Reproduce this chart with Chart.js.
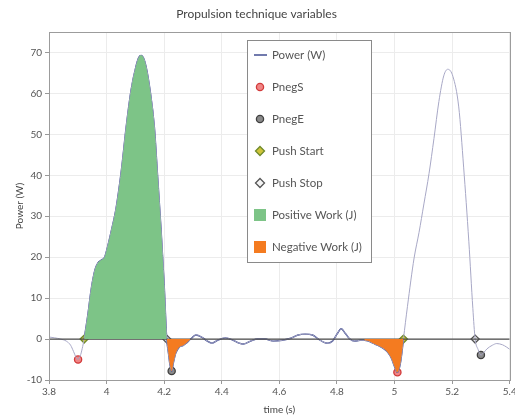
<!DOCTYPE html>
<html>
<head>
<meta charset="utf-8">
<script src="https://cdn.jsdelivr.net/npm/chart.js@4/dist/chart.umd.min.js"></script>
<style>
html,body{margin:0;padding:0;background:#fff;}
#wrap{width:515px;height:416px;position:relative;}
</style>
</head>
<body>
<div id="wrap"><canvas id="c" width="515" height="416"></canvas></div>
<script>
// ---- data ----
const timeS = [3.80,3.82,3.84,3.86,3.875,3.885,3.895,3.901,3.91,3.917,3.922,3.935,3.947,3.96,3.97,3.982,3.993,4.005,4.016,4.033,4.051,4.068,4.085,4.102,4.112,4.12,4.128,4.137,4.151,4.166,4.177,4.189,4.2,4.209,4.215,4.22,4.226,4.232,4.24,4.252,4.265,4.275,4.292,4.31,4.33,4.35,4.366,4.385,4.413,4.44,4.46,4.475,4.5,4.525,4.55,4.58,4.61,4.64,4.665,4.69,4.715,4.735,4.755,4.769,4.785,4.8,4.815,4.83,4.845,4.861,4.88,4.895,4.91,4.925,4.941,4.96,4.976,4.99,4.999,5.01,5.017,5.022,5.027,5.031,5.045,5.068,5.085,5.102,5.12,5.137,5.154,5.171,5.185,5.203,5.223,5.24,5.258,5.272,5.28,5.29,5.3,5.31,5.321,5.34,5.355,5.375,5.39,5.4];
const powerW = [0.5,0.3,0,-0.5,-1.5,-3,-4.6,-5,-3.8,-1.8,0,6,12.4,17,18.6,19.3,20,23,26.3,32,41,51.8,60.8,66.6,68.8,69.3,68.7,66.6,60.8,51.8,40,27,13.3,0,-3.5,-6.2,-7.8,-5.8,-3.5,-2,-1.6,-1.1,0,1,0.5,-0.5,-1,-0.3,0.3,-0.3,-1,-1.2,-0.5,0,0,-0.5,-0.3,0.2,1,1.2,1,0,-0.8,-1,-0.5,1.2,2.5,1.3,0,-0.5,-0.3,-0.3,-0.5,-1,-1.5,-2.2,-3.2,-4.8,-6.5,-8.1,-7,-5.2,-2.5,0,8,19.8,26,33,40.5,49,58,64.3,65.9,64.1,56.7,42,23.9,7.5,0,-2.5,-3.9,-3.3,-2.4,-1.5,-1.1,-1.4,-2,-2.5];

const pnegS_t = [3.901, 5.01];     const pnegS_v = [-5, -8.1];
const pnegE_t = [4.226, 5.30];     const pnegE_v = [-7.8, -3.9];
const pushStart_t = [3.922, 5.031]; const pushStart_v = [0, 0];
const pushStop_t = [4.209, 5.28];   const pushStop_v = [0, 0];
const cycleWindow = [3.922, 5.031];           // highlighted cycle
const positiveWindow = [3.922, 4.209];        // positive work
const negativeWindows = [[4.209, 4.292], [4.895, 5.031]]; // negative work

const xTickLabels = ['3.8','4','4.2','4.4','4.6','4.8','5','5.2','5.4'];
const yTickLabels = ['-10','0','10','20','30','40','50','60','70'];

const legendLabels = ['Power (W)','PnegS','PnegE','Push Start','Push Stop','Positive Work (J)','Negative Work (J)'];

// ---- helpers building datasets from the arrays ----
const pts = (ts, vs) => ts.map((t,i)=>({x:t,y:vs[i]}));
const windowPts = (a,b) => timeS.map((t,i)=>({x:t,y:powerW[i]})).filter(p=>p.x>=a-1e-9 && p.x<=b+1e-9);

const C = {
  lineDark:'#34418a', lineLight:'#a8a8c6', zero:'#4a4a4a',
  green:'#7dc487', orange:'#f47b20',
  negSFill:'#f08585', negSEdge:'#d23a3a',
  negEFill:'#8a8a8a', negEEdge:'#3f3f3f',
  startFill:'#cfc43a', startEdge:'#6f8a2a',
  stopFill:'#f4f4f4', stopEdge:'#555555'
};

const datasets = [];
datasets.push({data:windowPts(positiveWindow[0],positiveWindow[1]), borderWidth:0, pointRadius:0,
  backgroundColor:C.green, fill:'origin', cubicInterpolationMode:'monotone'});
negativeWindows.forEach(w=>datasets.push({data:windowPts(w[0],w[1]), borderWidth:0, pointRadius:0,
  backgroundColor:C.orange, fill:'origin', cubicInterpolationMode:'monotone'}));
datasets.push({data:[{x:3.8,y:0},{x:5.4,y:0}], borderColor:C.zero, borderWidth:1.3, pointRadius:0, fill:false});
datasets.push({data:pts(timeS,powerW), borderColor:C.lineLight, borderWidth:1, pointRadius:0, fill:false, cubicInterpolationMode:'monotone'});
datasets.push({data:windowPts(cycleWindow[0],cycleWindow[1]), borderColor:C.lineDark, borderWidth:1.4, pointRadius:0, fill:false, cubicInterpolationMode:'monotone'});
const marker = (ts,vs,style,fillc,edge,r)=>({data:pts(ts,vs), showLine:false, pointStyle:style, pointRadius:r,
  pointBackgroundColor:fillc, pointBorderColor:edge, pointBorderWidth:1.3});
datasets.push(marker(pushStop_t,pushStop_v,'rectRot',C.stopFill,C.stopEdge,4));
datasets.push(marker(pushStart_t,pushStart_v,'rectRot',C.startFill,C.startEdge,4));
datasets.push(marker(pnegE_t,pnegE_v,'circle',C.negEFill,C.negEEdge,3.6));
datasets.push(marker(pnegS_t,pnegS_v,'circle',C.negSFill,C.negSEdge,3.6));

const FONT = 'Lato, "Open Sans", sans-serif';

const framePlugin = {
  id:'frame',
  afterDatasetsDraw(chart){
    const {ctx, chartArea:a} = chart;
    ctx.save();
    ctx.strokeStyle='#9c9c9c'; ctx.lineWidth=1;
    ctx.strokeRect(Math.round(a.left)+0.5, Math.round(a.top)+0.5, Math.round(a.right-a.left), Math.round(a.bottom-a.top));
    // legend box
    const bx=247.5, by=40.5, bw=124, bh=222;
    ctx.fillStyle='#fff'; ctx.fillRect(bx,by,bw,bh);
    ctx.strokeStyle='#8a8a8a'; ctx.strokeRect(bx,by,bw,bh);
    ctx.font='11.5px '+FONT; ctx.textBaseline='middle'; ctx.textAlign='left';
    const sx=260, tx=272;
    legendLabels.forEach((lab,i)=>{
      const y = 55 + i*32;
      if(i===0){ ctx.strokeStyle=C.lineDark; ctx.lineWidth=1.4; ctx.beginPath(); ctx.moveTo(254,y); ctx.lineTo(267,y); ctx.stroke(); }
      const circ=(f,e)=>{ctx.beginPath(); ctx.arc(sx,y,3.6,0,Math.PI*2); ctx.fillStyle=f; ctx.fill(); ctx.strokeStyle=e; ctx.lineWidth=1.3; ctx.stroke();};
      const dia=(f,e)=>{ctx.beginPath(); ctx.moveTo(sx,y-4.5); ctx.lineTo(sx+4.5,y); ctx.lineTo(sx,y+4.5); ctx.lineTo(sx-4.5,y); ctx.closePath(); ctx.fillStyle=f; ctx.fill(); ctx.strokeStyle=e; ctx.lineWidth=1.3; ctx.stroke();};
      if(i===1) circ(C.negSFill,C.negSEdge);
      if(i===2) circ(C.negEFill,C.negEEdge);
      if(i===3) dia(C.startFill,C.startEdge);
      if(i===4) dia(C.stopFill,C.stopEdge);
      if(i===5){ ctx.fillStyle=C.green; ctx.fillRect(254,y-6,12,12); }
      if(i===6){ ctx.fillStyle=C.orange; ctx.fillRect(254,y-6,12,12); }
      ctx.fillStyle='#555'; ctx.fillText(lab, tx, y);
    });
    ctx.restore();
  }
};

new Chart(document.getElementById('c'), {
  type:'line',
  data:{datasets},
  options:{
    responsive:false, animation:false, devicePixelRatio:1,
    layout:{padding:{left:0,right:2,top:0,bottom:0}},
    plugins:{
      legend:{display:false}, tooltip:{enabled:false},
      title:{display:true, text:'Propulsion technique variables', color:'#444',
        font:{family:FONT, size:12, weight:'normal'}, padding:{top:7,bottom:10.6}}
    },
    scales:{
      x:{type:'linear', min:3.8, max:5.4,
        afterBuildTicks:s=>{s.ticks = xTickLabels.map(v=>({value:parseFloat(v)}));},
        ticks:{color:'#555', font:{family:FONT,size:10}, padding:2, maxRotation:0, autoSkip:false,
          callback:(v)=>xTickLabels.find(l=>Math.abs(parseFloat(l)-v)<1e-6)},
        grid:{color:'#ececec', tickColor:'#999', tickLength:4},
        border:{color:'#9c9c9c'},
        title:{display:true, text:'time (s)', color:'#444', font:{family:FONT,size:10}, padding:{top:4,bottom:0}},
        afterFit:s=>{s.height=36; s.paddingLeft=0; s.paddingRight=0;}
      },
      y:{type:'linear', min:-10, max:75,
        afterBuildTicks:s=>{s.ticks = yTickLabels.map(v=>({value:parseFloat(v)}));},
        ticks:{color:'#555', font:{family:FONT,size:10}, padding:3,
          callback:(v)=>yTickLabels.find(l=>Math.abs(parseFloat(l)-v)<1e-6)},
        grid:{color:'#ececec', tickColor:'#999', tickLength:4},
        border:{color:'#9c9c9c'},
        title:{display:true, text:'Power (W)', color:'#444', font:{family:FONT,size:10}, padding:{top:14,bottom:0}},
        afterFit:s=>{s.width=49; s.paddingTop=0; s.paddingBottom=0;}
      }
    }
  },
  plugins:[framePlugin]
});
</script>
</body>
</html>
